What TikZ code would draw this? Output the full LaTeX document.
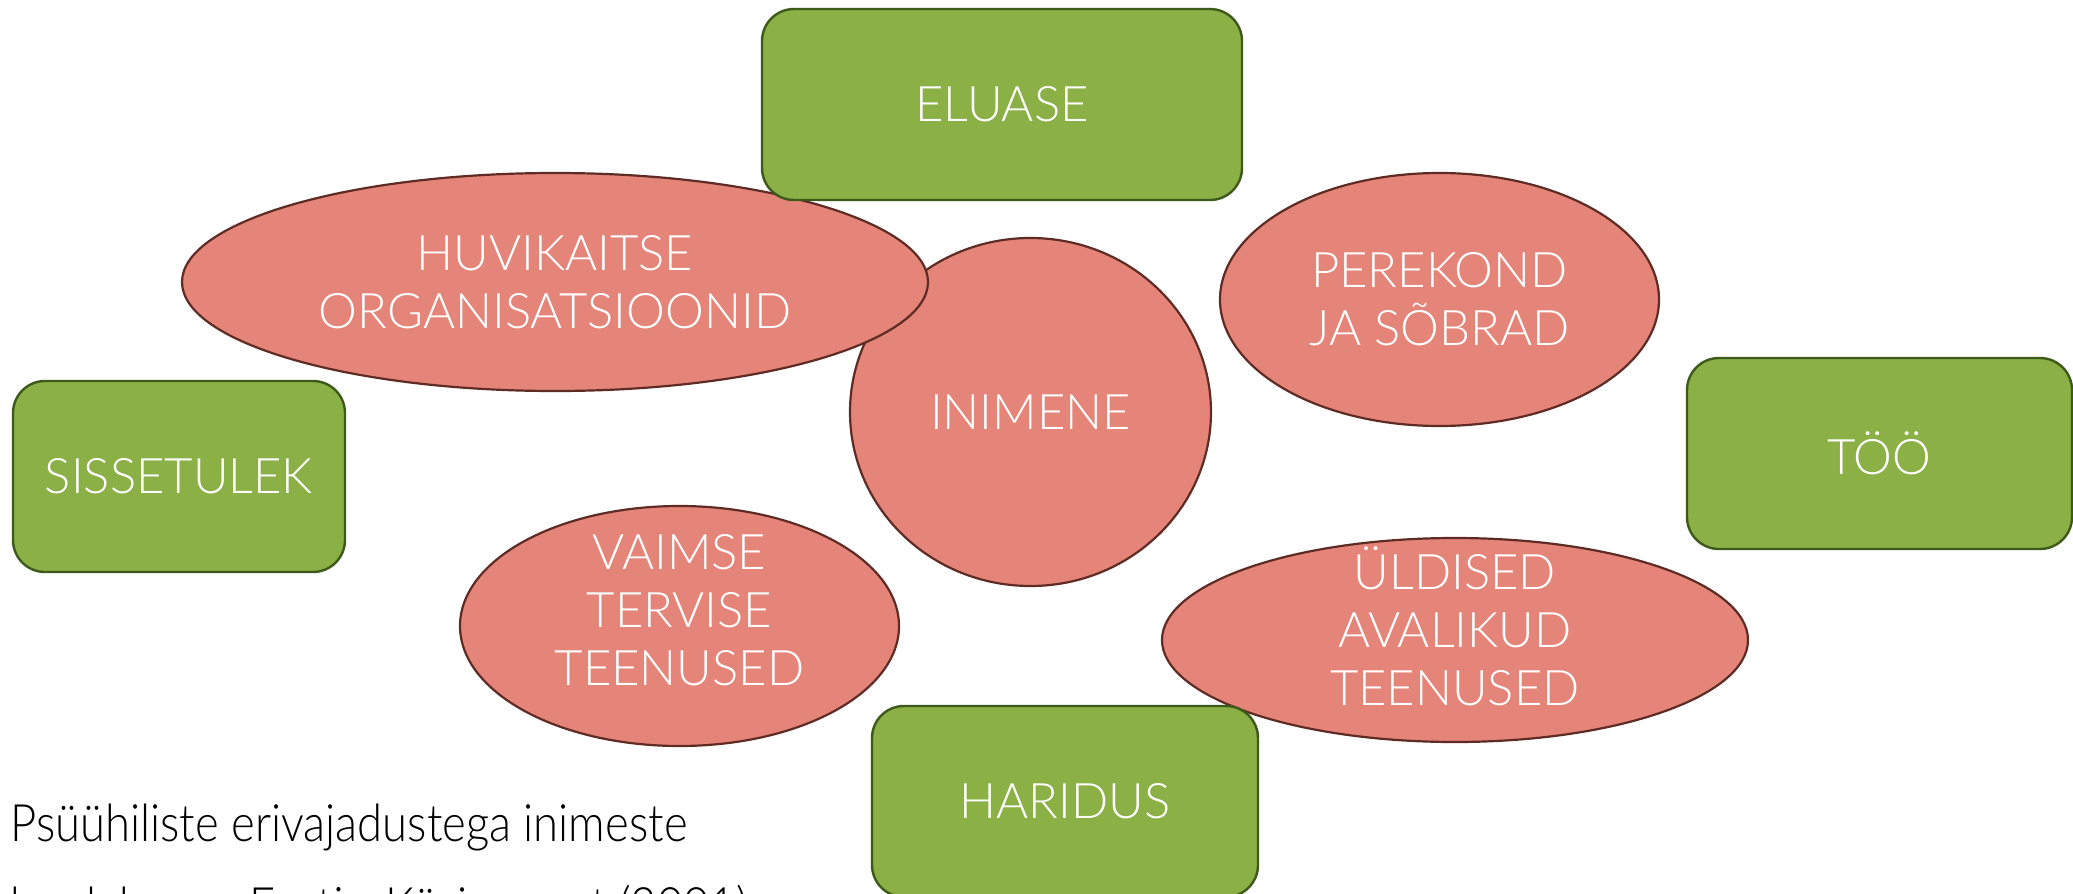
\documentclass[tikz,border=0pt]{standalone}
\usepackage{fontspec}
\setmainfont{Lato Light}
\newfontfamily\capfont{Lato Light}[FakeStretch=0.88]
\usetikzlibrary{shapes.geometric}
\definecolor{grn}{HTML}{8AB046}
\definecolor{grnd}{HTML}{3E5A1A}
\definecolor{sal}{HTML}{E58478}
\definecolor{sald}{HTML}{5E2B25}
\begin{document}
\begin{tikzpicture}[x=0.5pt,y=-0.5pt,
  lbl/.style={text=white,font=\fontsize{24.5}{29}\selectfont,align=center,inner sep=0pt},
  boxg/.style={lbl,rectangle,draw=grnd,fill=grn,line width=1.2pt,rounded corners=16pt,minimum height=95.5pt},
  ell/.style={ellipse,draw=sald,fill=sal,line width=1.1pt,inner sep=0pt},
  captxt/.style={anchor=base west,inner sep=0pt,text=black,font=\capfont\fontsize{25.8}{30}\selectfont}]
\useasboundingbox (0,0) rectangle (2073,894);
\fill[white] (0,0) rectangle (2073,894);
% red shapes
\node[ell,minimum width=180.5pt,minimum height=174pt,label={[lbl]center:INIMENE}] (inim) at (1030.5,412) {};
\node[ell,minimum width=373pt,minimum height=109pt,label={[lbl]center:HUVIKAITSE\\ORGANISATSIOONID}] (huvi) at (555,282) {};
\node[ell,minimum width=219.5pt,minimum height=126.5pt,label={[lbl]center:PEREKOND\\JA SÕBRAD}] (pere) at (1439.5,299.5) {};
\node[ell,minimum width=219.5pt,minimum height=120pt,label={[lbl,yshift=8pt]center:VAIMSE\\TERVISE\\TEENUSED}] (vaim) at (679.5,626) {};
\node[ell,minimum width=293pt,minimum height=102pt,label={[lbl,yshift=7pt]center:ÜLDISED\\AVALIKUD\\TEENUSED}] (yld) at (1455,640) {};
% green boxes
\node[boxg,minimum width=240pt] (elu) at (1002,104.5) {ELUASE};
\node[boxg,minimum width=192.5pt] (too) at (1879.5,453.5) {TÖÖ};
\node[boxg,minimum width=166pt] (siss) at (179,476.5) {SISSETULEK};
\node[boxg,minimum width=193pt] (hari) at (1065,801.5) {HARIDUS};
% caption
\node[captxt] (cap1) at (10,841) {Psüühiliste erivajadustega inimeste};
\node[captxt] (cap2) at (10,924) {hoolekanne Eestis, Küsimusest (2001)};
\end{tikzpicture}
\end{document}
